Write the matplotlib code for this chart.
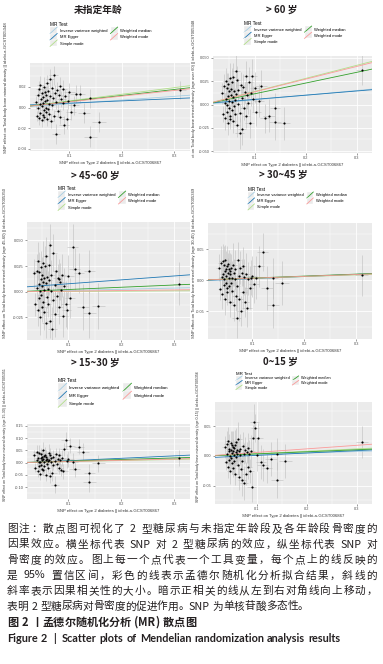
import re
import numpy as np
import matplotlib
matplotlib.use('Agg')
import matplotlib.pyplot as plt
from matplotlib.lines import Line2D
from matplotlib.patches import Rectangle
from matplotlib.legend_handler import HandlerBase
from matplotlib.ticker import FormatStrFormatter, MultipleLocator
from matplotlib.transforms import Bbox, TransformedBbox

plt.rcParams['font.family'] = ['Liberation Sans', 'Noto Sans CJK SC', 'DejaVu Sans']
plt.rcParams['axes.unicode_minus'] = False

W, H = 383, 664

# SNP effect on type 2 diabetes (same instruments in every panel)
snp_x = [0.036, 0.038, 0.040, 0.041, 0.042, 0.043, 0.044, 0.045, 0.045, 0.046,
         0.047, 0.048, 0.048, 0.049, 0.050, 0.050, 0.051, 0.052, 0.052, 0.053,
         0.054, 0.055, 0.055, 0.056, 0.057, 0.058, 0.058, 0.059, 0.060, 0.061,
         0.062, 0.063, 0.064, 0.065, 0.066, 0.067, 0.068, 0.070, 0.071, 0.072,
         0.074, 0.075, 0.077, 0.078, 0.080, 0.082, 0.083, 0.085, 0.087, 0.088,
         0.090, 0.092, 0.095, 0.097, 0.100, 0.103, 0.108, 0.112, 0.120, 0.128,
         0.140, 0.140, 0.157, 0.310]
snp_x_se = [0.005, 0.004, 0.006, 0.005, 0.004, 0.006, 0.005, 0.004, 0.007, 0.005,
            0.006, 0.004, 0.005, 0.006, 0.005, 0.004, 0.007, 0.005, 0.006, 0.004,
            0.005, 0.006, 0.005, 0.004, 0.007, 0.005, 0.006, 0.005, 0.004, 0.006,
            0.005, 0.007, 0.005, 0.006, 0.004, 0.005, 0.006, 0.008, 0.005, 0.007,
            0.006, 0.008, 0.006, 0.007, 0.008, 0.006, 0.007, 0.008, 0.007, 0.008,
            0.009, 0.008, 0.009, 0.008, 0.010, 0.009, 0.010, 0.011, 0.010, 0.012,
            0.012, 0.010, 0.013, 0.012]
# relative size of the outcome standard errors per SNP
se_rel = [1.0, 0.8, 1.2, 0.9, 1.1, 1.3, 0.7, 1.0, 1.4, 0.8, 1.2, 0.9, 1.1, 1.0, 0.7, 1.3,
          1.0, 1.5, 0.9, 1.1, 0.8, 1.2, 1.0, 1.4, 1.1, 0.9, 1.3, 0.8, 1.0, 1.2, 0.9, 1.6,
          1.0, 1.2, 1.4, 0.8, 1.1, 1.5, 0.9, 1.3, 1.0, 1.6, 1.2, 1.1, 1.0, 1.4, 1.2, 1.3,
          1.1, 1.5, 1.4, 1.2, 1.6, 1.3, 1.5, 1.4, 1.6, 1.5, 1.4, 1.6, 1.7, 1.5, 1.6, 1.5]

y_all = [0.005, -0.008, 0.012, 0.000, -0.010, 0.018, 0.003, -0.005, 0.022, 0.008,
         -0.012, 0.001, 0.014, -0.007, 0.004, 0.010, -0.002, 0.020, -0.009, 0.006,
         0.015, -0.004, 0.000, 0.012, -0.011, 0.007, 0.024, -0.001, 0.016, 0.003,
         -0.006, 0.028, 0.011, -0.013, 0.019, 0.002, 0.009, 0.031, -0.008, 0.014,
         0.005, -0.026, 0.017, -0.003, 0.012, 0.021, -0.009, 0.008, 0.004, 0.018,
         -0.017, 0.011, -0.011, 0.006, 0.015, -0.004, 0.002, 0.013, 0.013, -0.005,
         -0.028, 0.009, -0.014, 0.017]
y_60 = [0.012, -0.010, 0.020, 0.002, -0.015, 0.025, 0.006, -0.008, 0.018, 0.000,
        -0.020, 0.009, 0.022, -0.004, 0.004, 0.014, -0.012, 0.028, -0.016, 0.010,
        0.017, -0.006, 0.003, 0.024, -0.018, 0.008, 0.030, -0.002, 0.015, 0.005,
        -0.010, 0.036, 0.011, -0.022, 0.026, 0.001, 0.016, -0.031, -0.009, 0.021,
        0.007, -0.026, 0.019, -0.004, 0.013, 0.031, -0.012, 0.010, 0.002, 0.024,
        -0.020, 0.012, 0.031, 0.006, 0.018, -0.008, 0.004, 0.020, -0.015, -0.012,
        -0.019, -0.004, -0.020, 0.037]
y_45 = [0.018, -0.012, 0.020, 0.004, -0.018, 0.030, 0.008, -0.006, 0.019, 0.001,
        -0.025, 0.012, 0.024, -0.003, 0.006, 0.016, -0.015, 0.028, -0.010, 0.010,
        0.013, -0.020, 0.002, 0.025, -0.030, 0.009, 0.035, -0.005, 0.014, 0.003,
        -0.012, 0.026, 0.011, -0.028, 0.046, 0.001, 0.016, -0.036, -0.008, 0.038,
        0.007, -0.022, 0.020, -0.004, 0.013, 0.012, -0.015, 0.010, 0.002, 0.016,
        -0.024, 0.006, -0.012, -0.018, 0.015, -0.006, 0.044, 0.022, 0.018, -0.015,
        -0.021, 0.020, -0.014, 0.008]
y_30 = [0.020, -0.015, 0.028, 0.005, -0.022, 0.030, 0.010, -0.008, 0.024, 0.002,
        -0.030, 0.014, 0.032, -0.005, 0.007, 0.018, -0.012, 0.022, -0.020, 0.012,
        0.026, -0.010, 0.003, 0.018, -0.035, 0.009, 0.015, -0.004, 0.020, 0.004,
        -0.018, 0.025, 0.012, -0.040, 0.018, 0.001, -0.025, -0.061, -0.010, 0.032,
        0.006, -0.030, 0.020, -0.050, 0.012, 0.022, -0.020, 0.005, -0.035, 0.010,
        -0.045, 0.002, -0.012, 0.004, 0.006, -0.006, 0.004, 0.022, 0.045, -0.013,
        -0.040, 0.003, -0.005, 0.008]
y_15 = [0.030, -0.020, 0.045, 0.010, -0.035, 0.020, 0.005, -0.012, 0.040, 0.002,
        -0.045, 0.018, 0.035, -0.008, 0.012, 0.025, -0.025, 0.050, -0.030, 0.015,
        0.028, -0.015, 0.004, 0.032, -0.050, 0.010, 0.022, -0.005, 0.015, 0.006,
        -0.020, 0.040, 0.012, -0.055, 0.030, 0.001, 0.018, -0.040, -0.010, 0.025,
        0.008, -0.090, 0.035, -0.006, 0.014, 0.030, -0.020, 0.010, -0.030, 0.020,
        -0.035, 0.055, 0.092, 0.006, 0.015, 0.070, 0.005, -0.025, 0.065, 0.045,
        -0.080, -0.040, -0.002, 0.020]
y_0 = [0.015, -0.010, 0.020, 0.003, -0.018, 0.025, 0.008, -0.006, 0.012, 0.000,
       -0.025, 0.010, 0.022, -0.004, 0.005, 0.018, -0.012, 0.015, -0.020, 0.008,
       0.013, -0.008, 0.002, 0.019, -0.030, 0.006, 0.024, -0.002, 0.010, 0.004,
       -0.015, 0.028, 0.009, -0.035, 0.012, 0.001, -0.022, -0.040, -0.009, 0.017,
       0.004, -0.045, 0.010, -0.030, 0.006, 0.014, -0.018, 0.003, -0.025, 0.008,
       -0.053, 0.030, 0.058, 0.047, 0.002, 0.030, -0.010, -0.015, -0.020, -0.005,
       -0.040, 0.003, -0.008, 0.024]

outcome_y = [y_all, y_60, y_45, y_30, y_15, y_0]
outcome_se = [0.006, 0.011, 0.014, 0.022, 0.022, 0.018]

methods = ['Inverse variance weighted', 'MR Egger', 'Simple mode',
           'Weighted median', 'Weighted mode']
method_colors = ['#a6cee3', '#1f78b4', '#b2df8a', '#33a02c', '#fb9a99']
# slopes per panel, in the order of methods
mr_slopes = [[0.036, 0.022, 0.064, 0.058, 0.055],
             [0.050, 0.045, 0.140, 0.115, 0.136],
             [0.012, 0.038, 0.003, 0.022, 0.006],
             [0.030, 0.034, 0.028, 0.032, 0.030],
             [0.060, 0.100, 0.045, 0.065, 0.050],
             [0.025, 0.040, 0.040, 0.035, 0.060]]
egger_intercept = [0.002, 0.001, 0.004, -0.001, -0.002, -0.003]

titles = ['未指定年龄', '> 60 岁', '> 45~60 岁', '> 30~45 岁', '> 15~30 岁', '0~15 岁']
ylabels = ['SNP effect on Total body bone mineral density || id:ebi-a-GCST005348',
           'SNP effect on Total body bone mineral density (age over 60) || id:ebi-a-GCST005348',
           'SNP effect on Total body bone mineral density (age 45-60) || id:ebi-a-GCST005350',
           'SNP effect on Total body bone mineral density (age 30-45) || id:ebi-a-GCST005349',
           'SNP effect on Total body bone mineral density (age 15-30) || id:ebi-a-GCST005351',
           'SNP effect on Total body bone mineral density (age 0-15) || id:ebi-a-GCST005356']
xlabel = 'SNP effect on Type 2 diabetes || id:ebi-a-GCST006867'
yticks = [[-0.04, -0.02, 0.0, 0.02],
          [-0.05, -0.025, 0.0, 0.025, 0.05],
          [-0.025, 0.0, 0.025, 0.05],
          [-0.05, 0.0, 0.05],
          [-0.10, -0.05, 0.0, 0.05, 0.10, 0.15],
          [-0.05, 0.0, 0.05]]
ytick_fmt = ['%.2f', '%.3f', '%.3f', '%.2f', '%.2f', '%.2f']
xticks = [0.1, 0.2, 0.3]

caption = ['图注：散点图可视化了 2 型糖尿病与未指定年龄段及各年龄段骨密度的',
           '因果效应。横坐标代表 SNP 对 2 型糖尿病的效应，纵坐标代表 SNP 对',
           '骨密度的效应。图上每一个点代表一个工具变量，每个点上的线反映的',
           '是 95% 置信区间，彩色的线表示孟德尔随机化分析拟合结果，斜线的',
           '斜率表示因果相关性的大小。暗示正相关的线从左到右对角线向上移动，',
           '表明 2 型糖尿病对骨密度的促进作用。SNP 为单核苷酸多态性。']
fig_title_cn = '图 2 丨孟德尔随机化分析 (MR) 散点图'
fig_title_en = 'Figure 2  |  Scatter plots of Mendelian randomization analysis results'

# layout in pixels: axes (l, t, r, b), xlim, ylim, title centre, legend anchor, ylabel
axes_px = [(30, 63, 190, 151), (213, 56, 372, 153), (27, 222, 190, 340),
           (208, 223, 372, 339), (27, 424, 190, 499), (215, 402, 372, 504)]
xlims = [(0.025, 0.33), (0.018, 0.33), (0.022, 0.33), (0.015, 0.33), (0.022, 0.33), (0.017, 0.33)]
ylims = [(-0.042, 0.043), (-0.052, 0.052), (-0.047, 0.068), (-0.095, 0.092),
         (-0.148, 0.158), (-0.081, 0.091)]
title_px = [(98, 10), (282, 10), (95, 176), (283, 175), (95, 363), (280, 362)]
legend_px = [(48, 20), (242, 19), (56, 184), (246, 185), (56, 376), (234, 370)]
legend_size = [(3.0, 1.7, 2.0), (3.0, 1.7, 1.9), (3.0, 1.7, 2.0), (2.9, 1.6, 1.9),
               (3.2, 1.9, 2.4), (2.8, 1.6, 1.4)]
# ylabel: x, top, clip top, clip bottom, font size
ylab_px = [(6, 22, 0, 157, 3.1), (194, 20, 0, 158, 3.0), (5, 188, 183, 345, 3.0),
           (194, 188, 183, 345, 3.0), (5, 368, 365, 515, 2.6), (198, 371, 365, 515, 2.6)]


class DiagHandler(HandlerBase):
    def create_artists(self, legend, orig, xd, yd, w, h, fs, trans):
        bg = Rectangle((-xd, -yd), w, h, facecolor='#ebebeb', edgecolor='white',
                       lw=0.3, transform=trans)
        ln = Line2D([-xd, -xd + w], [-yd, -yd + h], color=orig.get_color(), lw=0.6,
                    transform=trans)
        return [bg, ln]


def rect(l, t, r, b):
    return [l / W, 1 - b / H, (r - l) / W, (b - t) / H]


fig = plt.figure(figsize=(W / 100, H / 100), dpi=100)

for i in range(6):
    ax = fig.add_axes(rect(*axes_px[i]))
    ax.set_facecolor('#ebebeb')
    ax.set_axisbelow(True)
    for s in ax.spines.values():
        s.set_visible(False)
    ax.set_xlim(*xlims[i])
    ax.set_ylim(*ylims[i])
    ax.set_xticks(xticks)
    ax.xaxis.set_minor_locator(MultipleLocator(0.05))
    ax.set_yticks(yticks[i])
    step = yticks[i][1] - yticks[i][0]
    ax.yaxis.set_minor_locator(MultipleLocator(step / 2))
    ax.yaxis.set_major_formatter(FormatStrFormatter(ytick_fmt[i]))
    ax.xaxis.set_major_formatter(FormatStrFormatter('%.1f'))
    ax.grid(which='major', color='white', lw=0.6)
    ax.grid(which='minor', color='white', lw=0.3)
    ax.tick_params(which='major', labelsize=2.8, length=1.5, width=0.4, pad=1,
                   colors='#4d4d4d')
    ax.tick_params(which='minor', length=0)
    ax.set_xlabel(xlabel, fontsize=3.1, labelpad=1.5, color='#333333')

    ys = outcome_y[i]
    yerr = [r * outcome_se[i] for r in se_rel]
    ax.errorbar(snp_x, ys, xerr=snp_x_se, yerr=yerr, fmt='none',
                ecolor='#bdbdbd', elinewidth=0.4, capsize=0, zorder=2)
    ax.scatter(snp_x, ys, s=2.4, c='black', lw=0, zorder=4)

    xs = np.array(xlims[i])
    handles = []
    for j, m in enumerate(methods):
        b0 = egger_intercept[i] if m == 'MR Egger' else 0.0
        ln, = ax.plot(xs, b0 + mr_slopes[i][j] * xs, color=method_colors[j],
                      lw=0.6, zorder=3)
        handles.append(ln)

    fs, hl, hh = legend_size[i]
    lx, ly = legend_px[i]
    fig.legend(handles, methods, loc='upper left', bbox_to_anchor=(lx / W, 1 - ly / H),
               ncol=2, title='MR Test', fontsize=fs, title_fontsize=fs + 0.4,
               frameon=False, handler_map={Line2D: DiagHandler()},
               handlelength=hl, handleheight=hh, labelspacing=0.0,
               columnspacing=0.8, handletextpad=0.6, borderpad=0, alignment='left')

    cx, cy = title_px[i]
    fig.text(cx / W, 1 - cy / H, titles[i], ha='center', va='center', fontsize=7,
             weight='bold', family=['Noto Sans CJK SC', 'DejaVu Sans'], color='#231f20')

    yx, ytop, ct, cb, yfs = ylab_px[i]
    t = fig.text(yx / W, 1 - ytop / H, ylabels[i], rotation=90, ha='center', va='top',
                 fontsize=yfs, color='#333333')
    clip = Bbox.from_extents((yx - 6) / W, 1 - cb / H, (yx + 6) / W, 1 - ct / H)
    t.set_clip_box(TransformedBbox(clip, fig.transFigure))
    t.set_clip_on(True)

renderer = fig.canvas.get_renderer()


def draw_line(text, base_y, x0, x1, size, family, weight='normal', justify=True):
    tokens = re.findall(r'[A-Za-z0-9%]+| |.', text)
    objs, widths = [], []
    for tk in tokens:
        if tk == ' ':
            objs.append(None)
            widths.append(size * 0.28 * 100 / 72)
            continue
        o = fig.text(0, 1 - base_y / H, tk, fontsize=size, weight=weight, family=family,
                     ha='left', va='baseline', color='#231f20')
        objs.append(o)
        widths.append(o.get_window_extent(renderer).width)
    gap = 0.0
    if justify and len(tokens) > 1:
        gap = max(((x1 - x0) - sum(widths)) / (len(tokens) - 1), 0.3)
    x = x0
    for o, w in zip(objs, widths):
        if o is not None:
            o.set_x(x / W)
        x += w + gap


cn_family = ['Noto Sans CJK SC', 'DejaVu Sans']
for k, line in enumerate(caption):
    draw_line(line, 532 + k * 15.5, 7, 377, 7.7, cn_family, justify=(k < 5))
draw_line(fig_title_cn, 626, 7, 377, 8.0, cn_family, weight='bold', justify=False)
draw_line(fig_title_en, 641.5, 7, 377, 7.8, ['Lato', 'DejaVu Sans'], weight='bold',
          justify=False)

fig.savefig('out.png', dpi=100)
